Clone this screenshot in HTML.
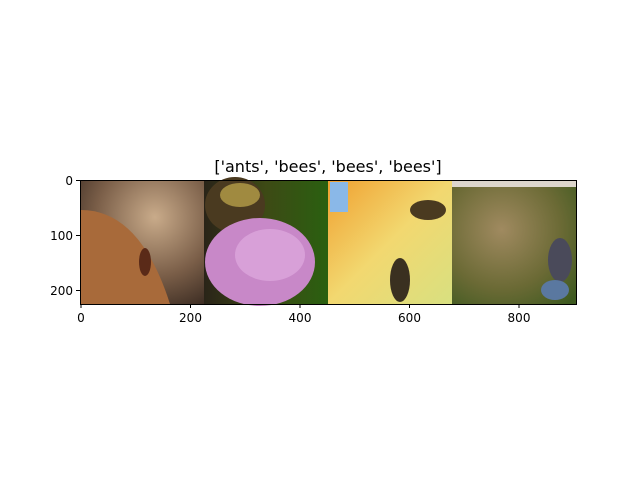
<!DOCTYPE html>
<html><head><meta charset="utf-8"><style>
body{margin:0;background:#fff;font-family:"Liberation Sans","DejaVu Sans",sans-serif}
svg text{font-family:"DejaVu Sans","Liberation Sans",sans-serif}
</style></head><body>
<svg width="640" height="480" viewBox="0 0 640 480">
<defs>
<radialGradient id="g1" cx="0.6" cy="0.3" r="0.8"><stop offset="0" stop-color="#c9ab8a"/><stop offset="0.6" stop-color="#7a5e48"/><stop offset="1" stop-color="#3e2e24"/></radialGradient>
<linearGradient id="g2" x1="0" y1="0" x2="1" y2="0"><stop offset="0" stop-color="#2a2418"/><stop offset="0.5" stop-color="#3d4a15"/><stop offset="1" stop-color="#2a6010"/></linearGradient>
<linearGradient id="g3" x1="0" y1="0" x2="1" y2="1"><stop offset="0" stop-color="#f0a030"/><stop offset="0.5" stop-color="#f2d870"/><stop offset="1" stop-color="#d8e080"/></linearGradient>
<radialGradient id="g4" cx="0.4" cy="0.4" r="0.8"><stop offset="0" stop-color="#a08a60"/><stop offset="0.6" stop-color="#6b6a35"/><stop offset="1" stop-color="#3e5a20"/></radialGradient>
</defs>
<text x="328" y="172" font-size="16" text-anchor="middle">['ants', 'bees', 'bees', 'bees']</text>
<g>
<rect x="81" y="180" width="123" height="124" fill="url(#g1)"/>
<path d="M81 210 Q140 210 170 304 L81 304Z" fill="#a86a3a"/>
<ellipse cx="145" cy="262" rx="6" ry="14" fill="#5a2a18"/>
<rect x="204" y="180" width="124" height="124" fill="url(#g2)"/>
<ellipse cx="235" cy="205" rx="30" ry="28" fill="#4a3a20"/>
<ellipse cx="240" cy="195" rx="20" ry="12" fill="#a08a40"/>
<ellipse cx="260" cy="262" rx="55" ry="44" fill="#c888c8"/>
<ellipse cx="270" cy="255" rx="35" ry="26" fill="#d8a0d8"/>
<rect x="328" y="180" width="124" height="124" fill="url(#g3)"/>
<rect x="330" y="182" width="18" height="30" fill="#8ab8e8"/>
<ellipse cx="428" cy="210" rx="18" ry="10" fill="#4a3a20"/>
<ellipse cx="400" cy="280" rx="10" ry="22" fill="#3a3020"/>
<rect x="452" y="180" width="124" height="124" fill="url(#g4)"/>
<rect x="452" y="181" width="124" height="6" fill="#ddd6cc"/>
<ellipse cx="560" cy="260" rx="12" ry="22" fill="#4a4a5a"/>
<ellipse cx="555" cy="290" rx="14" ry="10" fill="#5a78a0"/>
</g>
<rect x="80.5" y="180.5" width="496" height="124" fill="none" stroke="#000" stroke-width="1"/>
<g font-size="12">
<g stroke="#000"><line x1="81" y1="304" x2="81" y2="308"/><line x1="190.5" y1="304" x2="190.5" y2="308"/><line x1="300" y1="304" x2="300" y2="308"/><line x1="409.5" y1="304" x2="409.5" y2="308"/><line x1="519" y1="304" x2="519" y2="308"/></g>
<g text-anchor="middle"><text x="81" y="322">0</text><text x="190.5" y="322">200</text><text x="300" y="322">400</text><text x="409.5" y="322">600</text><text x="519" y="322">800</text></g>
</g>
<g font-size="12">
<g stroke="#000"><line x1="76" y1="180.5" x2="80" y2="180.5"/><line x1="76" y1="235.5" x2="80" y2="235.5"/><line x1="76" y1="290.5" x2="80" y2="290.5"/></g>
<g text-anchor="end"><text x="73" y="185">0</text><text x="73" y="240">100</text><text x="73" y="295">200</text></g>
</g>
</svg>
</body></html>
